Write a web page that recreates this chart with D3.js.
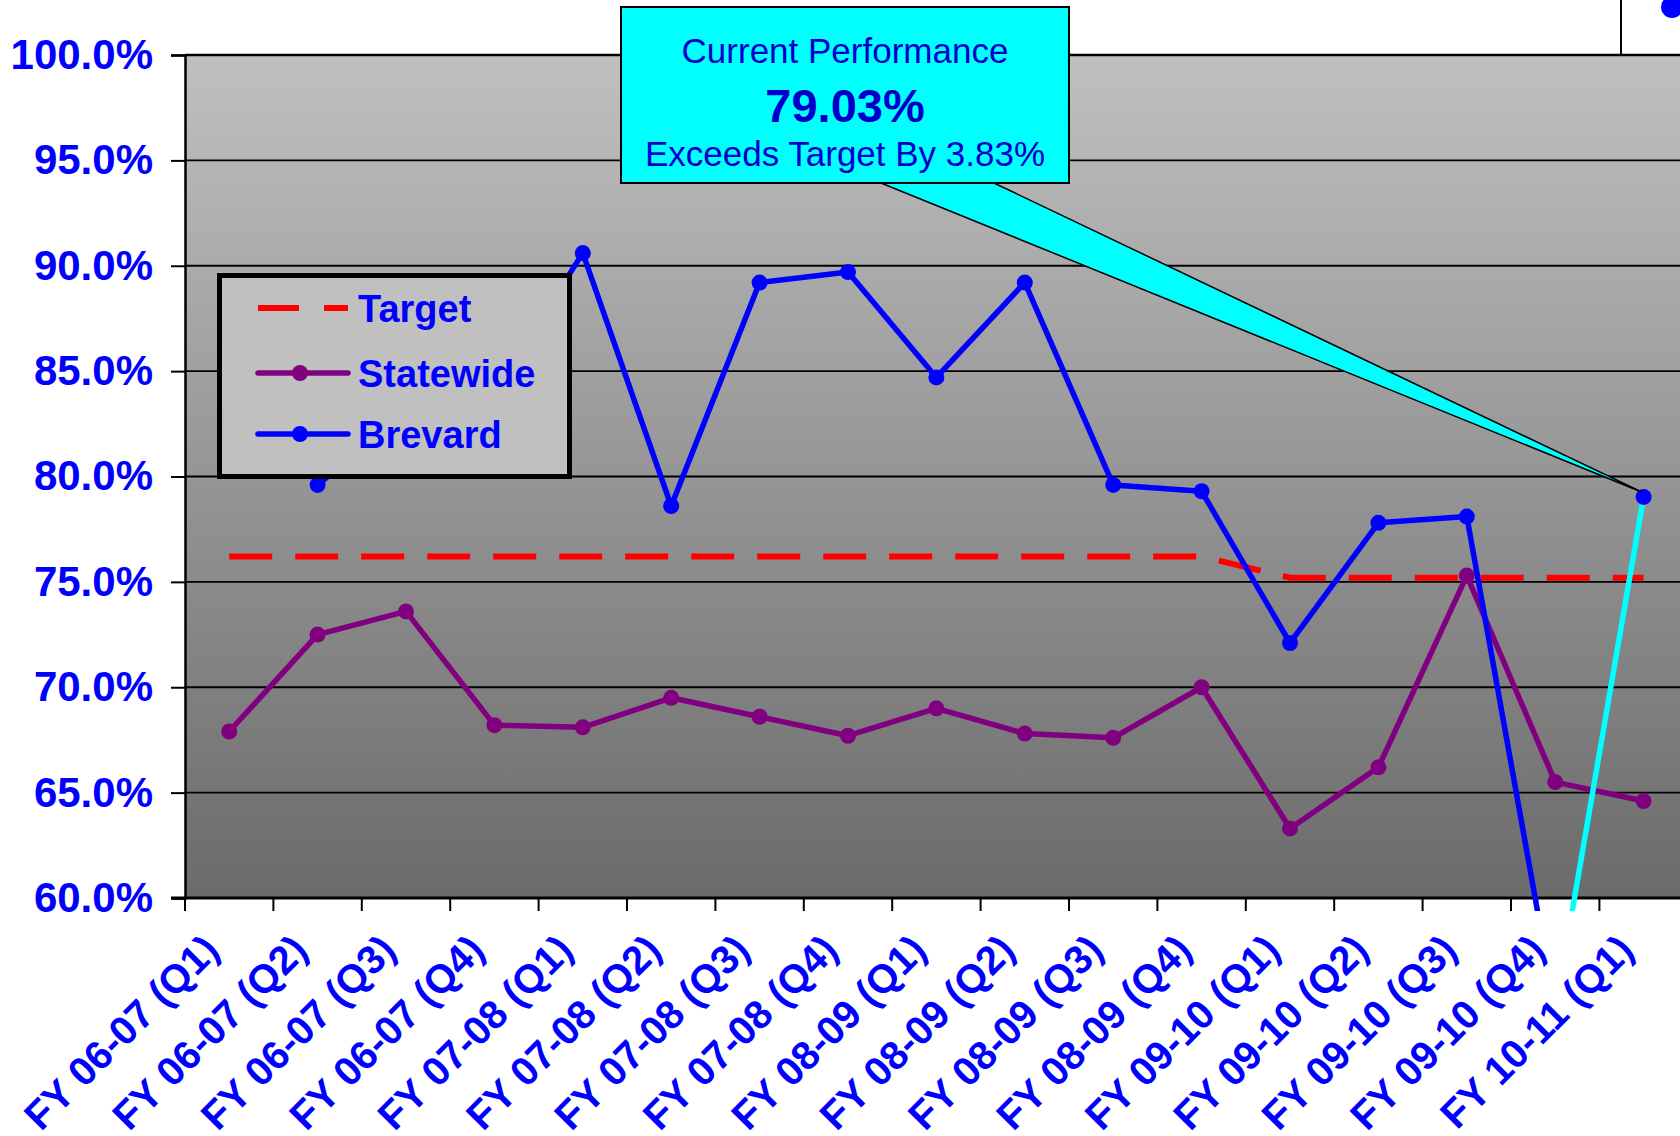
<!DOCTYPE html>
<html><head>
<meta charset="UTF-8">
<script src="https://cdn.jsdelivr.net/npm/d3@7"></script>
<style>
body{margin:0;background:#fff}
svg{display:block;font-family:"Liberation Sans",Arial,sans-serif}
</style>
</head><body>
<svg id="chart" width="1680" height="1136"></svg>
<script>
// chart data
var categories = ["FY 06-07 (Q1)","FY 06-07 (Q2)","FY 06-07 (Q3)","FY 06-07 (Q4)",
  "FY 07-08 (Q1)","FY 07-08 (Q2)","FY 07-08 (Q3)","FY 07-08 (Q4)",
  "FY 08-09 (Q1)","FY 08-09 (Q2)","FY 08-09 (Q3)","FY 08-09 (Q4)",
  "FY 09-10 (Q1)","FY 09-10 (Q2)","FY 09-10 (Q3)","FY 09-10 (Q4)","FY 10-11 (Q1)"];
var target    = [76.2,76.2,76.2,76.2,76.2,76.2,76.2,76.2,76.2,76.2,76.2,76.2,75.2,75.2,75.2,75.2,75.2];
var statewide = [67.9,72.5,73.6,68.2,68.1,69.5,68.6,67.7,69.0,67.8,67.6,70.0,63.3,66.2,75.3,65.5,64.6];
var brevard   = [null,79.6,83.0,84.0,90.6,78.6,89.2,89.7,84.7,89.2,79.6,79.3,72.1,77.8,78.1,54.7,79.03];
var yTicks = [60,65,70,75,80,85,90,95,100];
var seriesNames = ["Target","Statewide","Brevard"];
var calloutLines = ["Current Performance","79.03%","Exceeds Target By 3.83%"];

var svg = d3.select("#chart");
var plotL = 185, plotT = 55, plotB = 898, step = 88.4, W = 1680;

var x = d3.scaleBand().domain(categories).range([plotL, plotL + step*categories.length]);
var y = d3.scaleLinear().domain([60,100]).range([plotB, plotT]);
var cx = function(i){ return x(categories[i]) + x.bandwidth()/2; };

var defs = svg.append("defs");
var grad = defs.append("linearGradient").attr("id","bg").attr("x1",0).attr("y1",0).attr("x2",0).attr("y2",1);
grad.append("stop").attr("offset","0%").attr("stop-color","#c0c0c0");
grad.append("stop").attr("offset","100%").attr("stop-color","#6b6b6b");
defs.append("clipPath").attr("id","clip").append("rect")
  .attr("x",plotL).attr("y",0).attr("width",W-plotL).attr("height",911);

// plot area
svg.append("rect").attr("x",plotL).attr("y",plotT).attr("width",W-plotL).attr("height",plotB-plotT)
  .attr("fill","url(#bg)");

// gridlines
svg.append("g").selectAll("line").data(yTicks.slice(1)).join("line")
  .attr("x1",plotL).attr("x2",W).attr("y1",d=>y(d)).attr("y2",d=>y(d))
  .attr("stroke","#000").attr("stroke-width",d=>d==100?2.5:1.8);

// y axis
var yAxis = svg.append("g").attr("transform","translate("+plotL+",0)")
  .call(d3.axisLeft(y).tickValues(yTicks).tickSize(14).tickPadding(18).tickFormat(d=>d.toFixed(1)+"%"));
yAxis.select(".domain").attr("stroke","#000").attr("stroke-width",2.5);
yAxis.selectAll(".tick line").attr("stroke","#000").attr("stroke-width",2);
yAxis.selectAll("text").attr("fill","#0000ff").attr("font-size",42).attr("font-weight","bold")
  .attr("font-family","Liberation Sans, Arial, sans-serif");

// x axis
var xg = svg.append("g");
xg.append("line").attr("x1",plotL-14).attr("x2",W).attr("y1",plotB).attr("y2",plotB)
  .attr("stroke","#000").attr("stroke-width",3);
xg.selectAll(".xt").data(d3.range(categories.length+1)).join("line").attr("class","xt")
  .attr("x1",i=>plotL+i*x.step()).attr("x2",i=>plotL+i*x.step())
  .attr("y1",plotB).attr("y2",plotB+13).attr("stroke","#000").attr("stroke-width",2);
xg.selectAll("text").data(categories).join("text")
  .attr("transform",(d,i)=>"translate("+(cx(i)-8)+",952) rotate(-45)")
  .attr("text-anchor","end").attr("fill","#0000ff").attr("font-size",40).attr("font-weight","bold")
  .text(d=>d);

// series
var plot = svg.append("g").attr("clip-path","url(#clip)");
var line = d3.line().defined(d=>d!=null).x((d,i)=>cx(i)).y(d=>y(d));

plot.append("path").datum(target).attr("d",line).attr("fill","none")
  .attr("stroke","#ff0000").attr("stroke-width",6).attr("stroke-dasharray","43,23");

plot.append("path").datum(statewide).attr("d",line).attr("fill","none")
  .attr("stroke","#800080").attr("stroke-width",5.5).attr("stroke-linejoin","round");
plot.selectAll(".sw").data(statewide).join("circle").attr("class","sw")
  .attr("cx",(d,i)=>cx(i)).attr("cy",d=>y(d)).attr("r",8).attr("fill","#800080");

var n = brevard.length;
var brMain = brevard.map((d,i)=>i<n-1?d:null);
plot.append("path").datum(brMain).attr("d",line).attr("fill","none")
  .attr("stroke","#0000ff").attr("stroke-width",5.5).attr("stroke-linejoin","round");
var brLast = brevard.map((d,i)=>i>=n-2?d:null);
plot.append("path").datum(brLast).attr("d",line).attr("fill","none")
  .attr("stroke","#00ffff").attr("stroke-width",5.5);
plot.selectAll(".br").data(brevard.map((d,i)=>({v:d,i:i})).filter(d=>d.v!=null)).join("circle").attr("class","br")
  .attr("cx",d=>cx(d.i)).attr("cy",d=>y(d.v)).attr("r",8).attr("fill","#0000ff");

// legend
var lg = svg.append("g");
lg.append("rect").attr("x",219.5).attr("y",275.5).attr("width",350).attr("height",201)
  .attr("fill","#c0c0c0").attr("stroke","#000").attr("stroke-width",5);
var ly = [308,373,434];
lg.append("line").attr("x1",258).attr("x2",348).attr("y1",ly[0]).attr("y2",ly[0])
  .attr("stroke","#ff0000").attr("stroke-width",6).attr("stroke-dasharray","41,25");
[["#800080",ly[1]],["#0000ff",ly[2]]].forEach(function(s){
  lg.append("line").attr("x1",258).attr("x2",348).attr("y1",s[1]).attr("y2",s[1])
    .attr("stroke",s[0]).attr("stroke-width",5.5).attr("stroke-linecap","round");
  lg.append("circle").attr("cx",300).attr("cy",s[1]).attr("r",8).attr("fill",s[0]);
});
lg.selectAll("text").data(seriesNames).join("text")
  .attr("x",358).attr("y",(d,i)=>ly[i]+14).attr("fill","#0000ff")
  .attr("font-size",38).attr("font-weight","bold").text(d=>d);

// callout
var tipX = cx(n-1)-2, tipY = y(brevard[n-1])-5;
svg.append("path").attr("d","M881,183 L"+tipX+","+tipY+" L994,183 Z")
  .attr("fill","#00ffff").attr("stroke","#000").attr("stroke-width",1.5);
svg.append("rect").attr("x",621).attr("y",7).attr("width",448).attr("height",176)
  .attr("fill","#00ffff").attr("stroke","#000").attr("stroke-width",2);
var ct = svg.append("g").attr("fill","#0000cc").attr("text-anchor","middle");
ct.append("text").attr("x",845).attr("y",63).attr("font-size",35).text(calloutLines[0]);
ct.append("text").attr("x",845).attr("y",122).attr("font-size",47).attr("font-weight","bold").text(calloutLines[1]);
ct.append("text").attr("x",845).attr("y",166).attr("font-size",35).text(calloutLines[2]);

// top-right partial box
svg.append("line").attr("x1",1621).attr("x2",1621).attr("y1",0).attr("y2",plotT)
  .attr("stroke","#000").attr("stroke-width",2);
svg.append("circle").attr("cx",1672).attr("cy",7).attr("r",11).attr("fill","#0000ff");
</script>
</body></html>
